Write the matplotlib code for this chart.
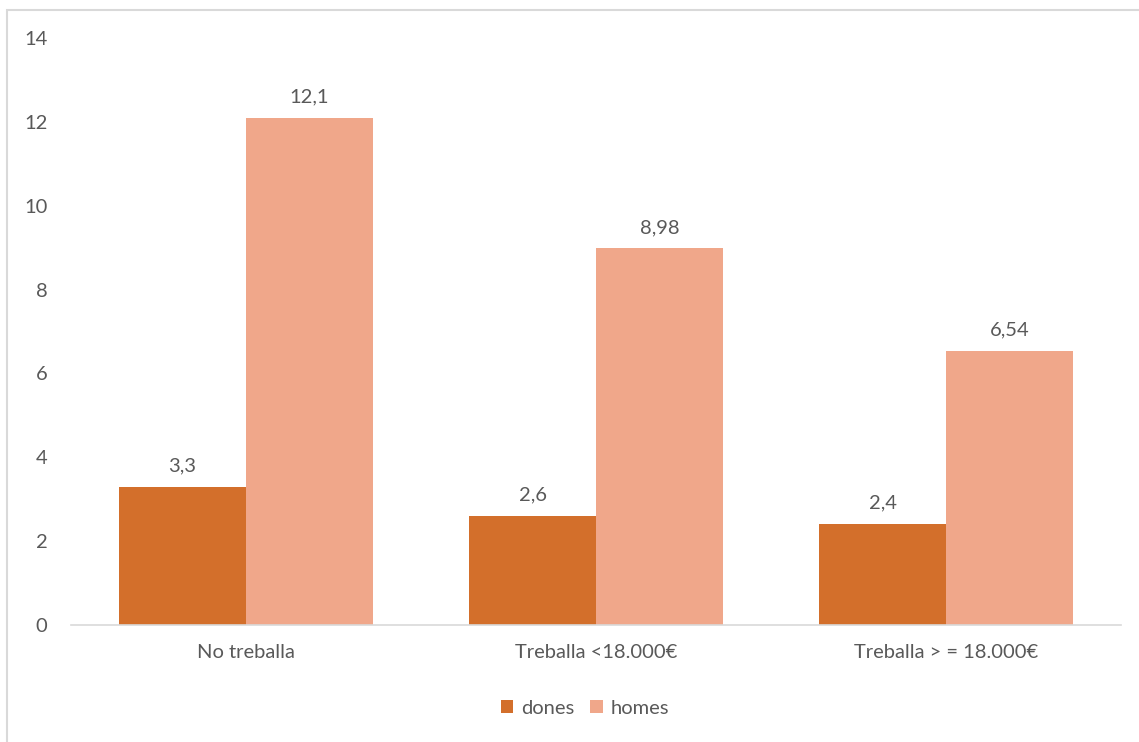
import matplotlib
matplotlib.use("Agg")
import matplotlib.pyplot as plt
import numpy as np
from matplotlib.patches import Rectangle

categories = ["No treballa", "Treballa <18.000€", "Treballa > = 18.000€"]
series_names = ["dones", "homes"]
dones = [3.3, 2.6, 2.4]
homes = [12.1, 8.98, 6.54]
yticks = [0, 2, 4, 6, 8, 10, 12, 14]

colors = ["#D36F2B", "#F0A78A"]
text_color = "#595959"
fs = 14.5
plt.rcParams["font.family"] = ["Lato", "DejaVu Sans"]

fig = plt.figure(figsize=(11.39, 7.42), dpi=100)
ax = fig.add_axes([71/1139, 1-625/742, (1121-71)/1139, (625-38)/742])

# outer chart border (partly cropped)
fig.patches.append(Rectangle((7/1139, -0.05), 1.2, 1-10/742+0.05, transform=fig.transFigure,
                             fill=False, edgecolor="#D9D9D9", linewidth=1.5, zorder=0))

x = np.arange(len(categories))
w = 127/350
b1 = ax.bar(x - w/2, dones, w, color=colors[0], label=series_names[0], zorder=2)
b2 = ax.bar(x + w/2, homes, w, color=colors[1], label=series_names[1], zorder=2)

for bars, vals in ((b1, dones), (b2, homes)):
    for r, v in zip(bars, vals):
        ax.annotate(f"{v:g}".replace(".", ","), (r.get_x() + r.get_width()/2, v),
                    xytext=(0, 9), textcoords="offset points", ha="center", va="bottom",
                    fontsize=fs, color=text_color)

ax.set_xlim(-0.5, 2.5)
ax.set_ylim(0, 14)
ax.set_yticks(yticks)
ax.set_yticklabels([str(t) for t in yticks])
ax.set_xticks(x)
ax.set_xticklabels(categories)
ax.tick_params(axis="y", length=0, pad=17, labelsize=fs, labelcolor=text_color)
ax.tick_params(axis="x", length=0, pad=14, labelsize=fs, labelcolor=text_color)
for s in ["top", "right", "left"]:
    ax.spines[s].set_visible(False)
ax.spines["bottom"].set_color("#D9D9D9")
ax.spines["bottom"].set_linewidth(1.2)
ax.spines["bottom"].set_zorder(3)

fig.legend(loc="center", bbox_to_anchor=(585/1139, 1-708/742), ncol=2, frameon=False,
           fontsize=fs, labelcolor=text_color, handlelength=0.6, handleheight=0.6,
           handletextpad=0.4, columnspacing=0.8)

fig.savefig("out.png", dpi=100, facecolor="white")
